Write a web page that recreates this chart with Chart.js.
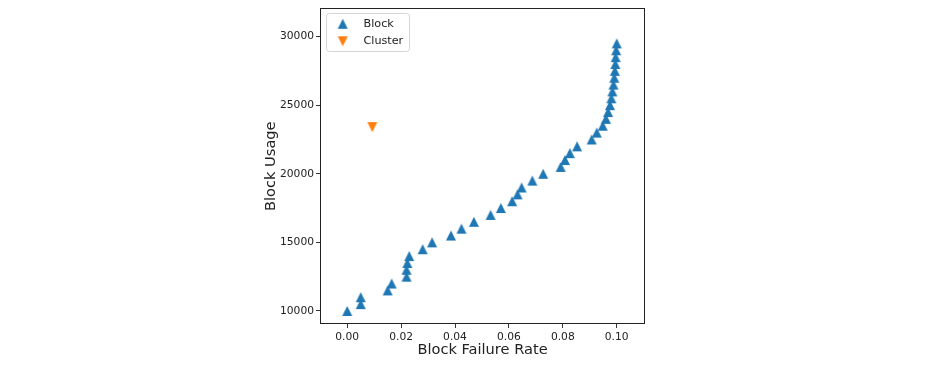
<!DOCTYPE html>
<html>
<head>
<meta charset="utf-8">
<script src="https://cdn.jsdelivr.net/npm/chart.js@4/dist/chart.umd.min.js"></script>
<style>
html,body{margin:0;padding:0;background:#fff;}
#wrap{width:944px;height:366px;}
</style>
</head>
<body>
<div id="wrap"><canvas id="c" width="944" height="366"></canvas></div>
<script>
// ---- data ----
const blockX = [0.000,0.005,0.005,0.015,0.0165,0.022,0.022,0.0223,0.023,0.028,
                0.0315,0.0385,0.0424,0.047,0.0532,0.057,0.0612,0.0632,0.0647,0.0687,
                0.0727,0.0792,0.0808,0.0826,0.0853,0.0907,0.0926,0.0948,0.0960,0.0968,
                0.0975,0.0980,0.0984,0.0988,0.0991,0.0993,0.0995,0.0996,0.0998,0.1000];
const blockY = [10000,10500,11000,11500,12000,12500,13000,13500,14000,14500,
                15000,15500,16000,16500,17000,17500,18000,18500,19000,19500,
                20000,20500,21000,21500,22000,22500,23000,23500,24000,24500,
                25000,25500,26000,26500,27000,27500,28000,28500,29000,29500];
const clusterX = [0.0093];
const clusterY = [23400];
const xTicks = [0.00,0.02,0.04,0.06,0.08,0.10];
const yTicks = [10000,15000,20000,25000,30000];
const seriesLabels = ['Block','Cluster'];

// ---- marker images ----
function tri(color, up){
  const c=document.createElement('canvas'); c.width=12; c.height=12;
  const g=c.getContext('2d'); g.fillStyle=color; g.beginPath();
  if(up){ g.moveTo(6,1); g.lineTo(11,11); g.lineTo(1,11); }
  else { g.moveTo(1,1); g.lineTo(11,1); g.lineTo(6,11); }
  g.closePath(); g.fill(); return c;
}
const upImg = tri('#1f77b4', true);
const downImg = tri('#ff7f0e', false);

const FONT = 'DejaVu Sans';
const framePlugin = {
  id:'frame',
  afterDraw(chart){
    const {ctx, chartArea:a} = chart;
    ctx.save();
    ctx.strokeStyle='#222'; ctx.lineWidth=1;
    ctx.strokeRect(Math.round(a.left)+0.5, Math.round(a.top)+0.5, Math.round(a.right-a.left)-1, Math.round(a.bottom-a.top)-1);
    // legend
    const lx=326.5, ly=13.5, lw=83, lh=38, r=3;
    ctx.beginPath();
    ctx.moveTo(lx+r,ly); ctx.lineTo(lx+lw-r,ly); ctx.quadraticCurveTo(lx+lw,ly,lx+lw,ly+r);
    ctx.lineTo(lx+lw,ly+lh-r); ctx.quadraticCurveTo(lx+lw,ly+lh,lx+lw-r,ly+lh);
    ctx.lineTo(lx+r,ly+lh); ctx.quadraticCurveTo(lx,ly+lh,lx,ly+lh-r);
    ctx.lineTo(lx,ly+r); ctx.quadraticCurveTo(lx,ly,lx+r,ly); ctx.closePath();
    ctx.fillStyle='rgba(255,255,255,0.8)'; ctx.fill();
    ctx.strokeStyle='#d5d5d5'; ctx.stroke();
    const imgs=[upImg, downImg], ys=[23.8,41.3];
    ctx.font='11.2px "'+FONT+'"'; ctx.fillStyle='#222'; ctx.textBaseline='middle'; ctx.textAlign='left';
    for(let i=0;i<2;i++){
      ctx.drawImage(imgs[i], 342.7-6, ys[i]-6);
      ctx.fillText(seriesLabels[i], 363.5, ys[i]);
    }
    ctx.restore();
  }
};

new Chart(document.getElementById('c'), {
  type:'scatter',
  data:{
    datasets:[
      {label:seriesLabels[0], data:blockX.map((x,i)=>({x:x,y:blockY[i]})), pointStyle:upImg, backgroundColor:'#1f77b4', borderColor:'#1f77b4'},
      {label:seriesLabels[1], data:clusterX.map((x,i)=>({x:x,y:clusterY[i]})), pointStyle:downImg, backgroundColor:'#ff7f0e', borderColor:'#ff7f0e'}
    ]
  },
  options:{
    responsive:false, animation:false, devicePixelRatio:1,
    layout:{padding:{left:250,right:299,top:8,bottom:0}},
    plugins:{legend:{display:false}, tooltip:{enabled:false}},
    scales:{
      x:{
        type:'linear', position:'bottom', min:-0.0101, max:0.1105,
        afterBuildTicks(s){ s.ticks = xTicks.map(v=>({value:v})); },
        afterFit(s){ s.height = 42; },
        grid:{display:true, drawOnChartArea:false, drawTicks:true, tickLength:4, color:'#333', lineWidth:1},
        border:{display:false},
        ticks:{font:{family:FONT,size:10.7}, color:'#222', padding:2.5, maxRotation:0, autoSkip:false,
               callback:v=>Number(v).toFixed(2)},
        title:{display:true, text:'Block Failure Rate', font:{family:FONT,size:14.6}, color:'#222', padding:{top:0,bottom:7}}
      },
      y:{
        type:'linear', position:'left', min:9050, max:32050,
        afterBuildTicks(s){ s.ticks = yTicks.map(v=>({value:v})); },
        afterFit(s){ s.width = 70; },
        grid:{display:true, drawOnChartArea:false, drawTicks:true, tickLength:4, color:'#333', lineWidth:1},
        border:{display:false},
        ticks:{font:{family:FONT,size:10.7}, color:'#222', padding:2, autoSkip:false,
               callback:v=>String(v)},
        title:{display:true, text:'Block Usage', font:{family:FONT,size:14.6}, color:'#222', padding:{top:12,bottom:0}}
      }
    }
  },
  plugins:[framePlugin]
});
</script>
</body>
</html>
